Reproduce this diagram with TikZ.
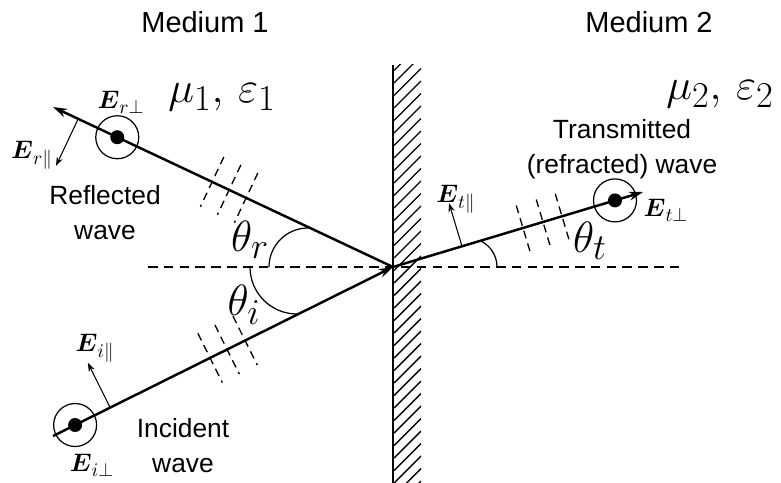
\documentclass[tikz,border=0pt]{standalone}
\usepackage{amsmath}
\usepackage{fontspec}
\setmainfont{Liberation Sans}
\usetikzlibrary{arrows.meta,calc}
\begin{document}
\begin{tikzpicture}[x=0.02cm,y=-0.02cm,
  ray/.style={line width=1.4pt},
  wavefront/.style={line width=0.75pt, dash pattern=on 4.5pt off 3pt},
  pol/.style={line width=0.6pt,-{Stealth[length=5pt,width=3.6pt]}},
  axisline/.style={line width=0.8pt, dash pattern=on 5.5pt off 3.5pt},
  anglearc/.style={line width=0.7pt},
  lbl/.style={font=\fontsize{15}{20}\selectfont, align=center, inner sep=0pt},
  medlbl/.style={font=\fontsize{16.5}{19}\selectfont, inner sep=0pt},
  mat/.style={font=\fontsize{30}{34}\selectfont, inner sep=0pt},
  ang/.style={font=\fontsize{30}{34}\selectfont, inner sep=0pt},
  elbl/.style={font=\fontsize{15}{17}\selectfont, inner sep=0pt},
  ring/.style={circle, draw, line width=0.7pt, minimum size=0.86cm, inner sep=0pt},
  dot/.style={circle, fill, minimum size=0.28cm, inner sep=0pt}]
\useasboundingbox (0,0) rectangle (781,483);

% interface point and ray ends
\coordinate (O) at (393,267);
\coordinate (is) at (53,436);
\coordinate (rt) at (53,107);
\coordinate (tt) at (643,192);
\coordinate (hl) at (148,267);
\coordinate (hr) at (685,267);
\coordinate (wt) at (393,65);
\coordinate (wb) at (393,483);

% horizontal dashed normal
\draw[axisline] (hl) -- (hr);

% wall with hatching
\begin{scope}
  \clip (394,65) rectangle (421,483);
  \foreach \yy in {70.5,83,...,540} {
    \draw[line width=0.8pt] (394,\yy) -- (421,\yy-27);
  }
\end{scope}
\draw[line width=1.7pt] (wt) -- (wb);

% rays
\draw[ray,-{Stealth[length=8pt,width=5pt]}] (is) -- (O);
\draw[ray,-{Stealth[length=8pt,width=5pt]}] (O) -- (rt);
\draw[ray,-{Stealth[length=8pt,width=5pt]}] (O) -- (tt);

% rings with dots
\node[ring] (cr) at ($(O)!0.811!(rt)$) {};
\node[dot] (dr) at (cr) {};
\node[ring] (ci) at ($(O)!0.935!(is)$) {};
\node[dot] (di) at (ci) {};
\node[ring] (ct) at ($(O)!0.888!(tt)$) {};
\node[dot] (dt) at (ct) {};

% wavefronts
\foreach \f in {0.532,0.482,0.432} {
  \coordinate (w) at ($(O)!\f!(rt)$);
  \draw[wavefront] ($(w)!0.55cm!90:(O)$) -- ($(w)!0.55cm!-90:(O)$);
}
\foreach \f in {0.538,0.488,0.435} {
  \coordinate (w) at ($(O)!\f!(is)$);
  \draw[wavefront] ($(w)!0.55cm!90:(O)$) -- ($(w)!0.55cm!-90:(O)$);
}
\foreach \f in {0.52,0.60,0.676} {
  \coordinate (w) at ($(O)!\f!(tt)$);
  \draw[wavefront] ($(w)!0.48cm!90:(O)$) -- ($(w)!0.48cm!-90:(O)$);
}

% polarization arrows (parallel components)
\coordinate (br) at ($(O)!0.926!(rt)$);
\coordinate (er) at ($(br)!1.04cm!-90:(O)$);
\draw[pol] (br) -- (er);
\coordinate (bi) at ($(O)!0.832!(is)$);
\coordinate (ei) at ($(bi)!1.0cm!90:(O)$);
\draw[pol] (bi) -- (ei);
\coordinate (bt) at ($(O)!0.276!(tt)$);
\coordinate (et) at ($(bt)!0.9cm!90:(tt)$);
\draw[pol] (bt) -- (et);

% angle arcs
\draw[anglearc] (269,267) arc[start angle=180, end angle=270, radius=39];
\draw[anglearc] (250,267) arc[start angle=180, end angle=90, radius=47];
\draw[anglearc] (497,267) arc[start angle=0, end angle=-64.3, radius=29];

% texts
\node[medlbl] (m1) at (205,22) {Medium 1};
\node[medlbl] (m2) at (649,22) {Medium 2};
\node[mat] (p1) at (222,97) {$\mu_1,\,\varepsilon_1$};
\node[mat] (p2) at (720,94) {$\mu_2,\,\varepsilon_2$};

\node[ang] (tr) at (250,240) {$\theta_r$};
\node[ang] (ti) at (244,305) {$\theta_i$};
\node[ang] (tht) at (590,241) {$\theta_t$};

\node[elbl] (lrp) at (121,102) {$\boldsymbol{E}_{r\perp}$};
\node[elbl] (lrl) at (32,155) {$\boldsymbol{E}_{r\parallel}$};
\node[elbl] (lil) at (95,348) {$\boldsymbol{E}_{i\parallel}$};
\node[elbl] (lip) at (92,465) {$\boldsymbol{E}_{i\perp}$};
\node[elbl] (ltl) at (456,199) {$\boldsymbol{E}_{t\parallel}$};
\node[elbl] (ltp) at (666,210) {$\boldsymbol{E}_{t\perp}$};

\node[lbl] (refl) at (105,213) {Reflected\\wave};
\node[lbl] (trans) at (622,149) {Transmitted\\(refracted) wave};
\node[lbl] (inc) at (183,446) {Incident\\wave};
\end{tikzpicture}
\end{document}
